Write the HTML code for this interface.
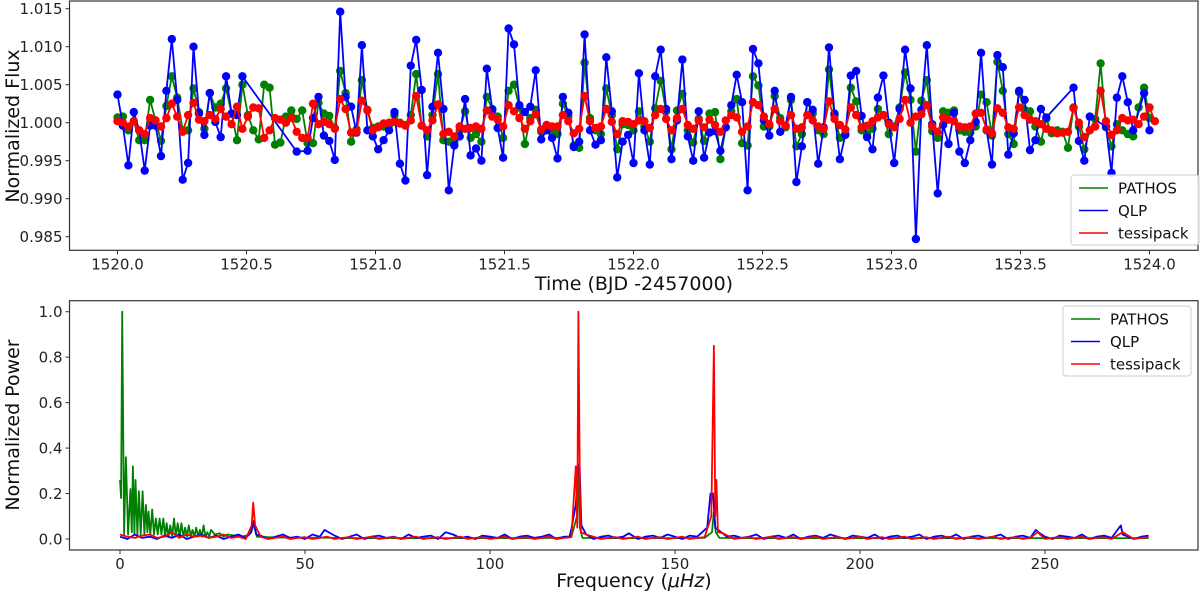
<!DOCTYPE html>
<html><head><meta charset="utf-8"><style>
html,body{margin:0;padding:0;background:#fff;}
svg{display:block;font-family:"DejaVu Sans","Liberation Sans",sans-serif;}
</style></head><body>
<svg id="chart" width="1200" height="593" viewBox="0 0 1200 593" xmlns="http://www.w3.org/2000/svg">
<g id="topG"></g>
<g id="botG"></g>
</svg>
<script>
// ---- Light curve data (flux deviation in units of 0.001) ----
const timeStart = 1520.0;
const timeEnd = 1524.0;
const pathosFlux = [0.7,0.8,-1.0,0.2,-2.3,-2.3,3.0,0.3,-2.4,2.2,6.1,3.3,-1.0,-1.0,4.5,1.4,-0.8,3.9,2.0,2.5,4.5,1.2,-2.3,5.0,1.0,-1.0,-2.2,5.0,4.6,-2.9,-2.6,0.8,1.6,0.5,1.6,-2.7,-2.7,2.6,1.2,0.9,-0.7,6.8,3.9,-2.5,-0.9,5.6,1.7,-0.7,-0.5,-0.5,-0.3,1.0,0.0,-0.3,1.0,6.4,-0.4,-1.8,1.0,6.4,-2.3,-2.5,-2.6,
-1.0,1.5,-2.0,-1.5,-2.5,3.4,1.8,0.8,-2.0,4.2,5.0,2.0,-2.8,0.6,1.7,-1.2,-0.8,-1.2,-1.5,2.5,0.8,-3.0,-3.3,7.9,0.6,-1.0,-1.5,4.5,1.0,-3.5,-0.2,-0.3,-1.0,1.5,-0.5,-2.5,1.9,5.5,1.5,-3.5,1.6,3.8,-1.0,-2.6,0.5,-2.4,1.2,1.4,-4.8,-0.6,1.5,3.1,-2.7,-3.0,6.1,4.9,-0.5,-0.5,3.5,0.6,-0.6,3.0,-3.1,-1.5,2.7,1.2,-1.0,-1.5,7.0,1.0,-2.0,-1.5,4.6,2.8,-1.0,-1.5,-0.8,1.8,1.0,-1.5,-0.5,2.0,6.6,3.0,-3.8,2.9,5.6,-1.1,-2.0,1.5,1.3,1.6,-1.0,-1.2,-1.3,-0.5,3.7,2.7,-1.7,8.0,4.2,-1.5,-2.8,4.0,1.7,1.5,-0.5,-2.5,0.5,-1.4,-1.0,-1.2,-3.3,2.0,-0.5,-3.5,-1.0,0.5,7.8,-0.6,-3.1,-0.2,-1.0,-1.5,-1.8,2.0,4.6,0.6];
const qlpFlux = [3.7,-0.4,-5.6,1.4,-1.0,-6.3,-0.4,-0.4,-4.4,4.2,11.0,3.0,-7.5,-5.3,10.0,1.2,-1.6,3.9,0.1,-1.9,6.1,1.2,1.0,6.1,null,null,null,null,null,null,null,null,null,-3.8,null,-3.7,0.6,3.4,-1.7,-2.4,-4.9,14.6,3.4,2.1,-1.3,10.2,-1.0,-1.8,-3.5,-2.3,-1.0,1.4,-5.4,-7.6,7.5,10.9,4.3,-6.9,2.1,9.2,1.8,-8.9,-3.0,
-1.8,3.1,-4.3,-3.4,-5.0,7.1,1.7,-0.7,-4.6,12.4,10.3,2.3,1.4,2.1,6.9,-2.2,-1.0,-2.0,-4.7,3.4,1.3,-3.2,-2.5,11.6,-1.0,-2.9,-2.3,8.6,1.5,-7.2,-2.5,-1.6,-5.3,6.5,-1.0,-5.5,6.1,9.6,1.8,-4.8,0.3,8.3,-1.8,-5.0,1.5,-4.6,-1.3,-1.1,-3.7,-0.6,2.3,6.3,2.7,-8.9,9.7,7.8,0.3,-1.7,4.2,-1.2,-0.4,3.4,-7.8,-3.1,2.7,1.7,-5.4,-0.6,9.9,1.2,-4.8,-1.6,6.2,6.8,0.9,-1.9,-3.5,3.3,6.2,0.0,-5.3,1.8,9.6,4.5,-15.3,1.7,10.2,-0.2,-9.3,-0.3,-2.8,1.3,-3.8,-5.3,-2.3,0.1,9.2,-1.0,-5.5,8.9,7.3,-4.2,-1.4,4.2,3.0,-3.6,-2.3,1.8,0.7,null,null,null,null,4.6,-2.4,-5.0,0.8,null,null,-0.5,-6.6,3.3,6.1,2.7,-1.0,null,3.9,-1.0];
const tessipackFlux = [0.2,0.0,-0.5,0.2,-1.0,-1.5,0.6,0.3,-0.5,0.6,2.5,0.8,-1.2,1.0,2.6,0.4,0.2,1.0,0.5,1.8,0.8,-0.2,2.1,-0.8,0.8,2.0,1.9,-2.0,-1.0,0.6,0.4,0.0,0.6,-1.2,-2.0,-2.0,2.5,-0.2,0.1,-0.2,-0.8,3.1,1.8,-1.3,-1.2,2.9,1.6,-1.0,-0.6,-0.1,0.0,0.1,-0.1,-0.4,0.3,3.5,-0.4,-1.0,0.3,2.4,-1.5,-1.2,-1.8,
-0.5,-0.8,-0.7,-0.5,-0.8,1.6,0.8,0.4,-0.5,2.3,1.5,0.6,-0.8,0.2,1.1,-0.9,-0.3,-0.5,-0.5,1.0,0.2,-1.4,-0.8,3.5,0.2,-0.7,-0.5,1.8,0.1,-1.5,0.2,0.1,-0.2,0.3,0.2,-0.7,1.0,1.8,0.5,-1.0,0.6,1.8,-0.3,-0.8,0.3,-0.6,0.4,-0.3,-1.2,0.3,1.0,0.7,-1.2,-0.5,2.7,2.3,0.8,-0.2,1.8,0.2,-0.4,1.0,-0.8,-0.6,1.0,0.3,-0.5,-0.8,2.8,0.5,-0.3,-0.9,2.0,1.0,-0.6,-0.4,0.2,0.7,1.0,-0.2,-0.6,0.5,3.0,0.0,0.8,1.1,2.3,-0.5,-1.2,0.7,0.4,0.2,-0.5,-0.6,-0.5,1.2,1.3,-0.9,-1.4,1.9,1.3,-0.6,-0.8,2.0,1.0,0.4,0.2,-0.2,-0.8,-1.0,-1.4,-1.3,-1.2,1.9,0.0,-1.9,-1.0,-0.5,4.2,0.2,-1.6,-1.0,0.6,0.3,0.4,-0.2,0.8,2.0,0.2];
const fluxTicks = [0.985,0.990,0.995,1.000,1.005,1.010,1.015];
const timeTicks = [1520.0,1520.5,1521.0,1521.5,1522.0,1522.5,1523.0,1523.5,1524.0];

// ---- Periodogram data ----
const pathosSpectrum = [[0,0.26],[0.3,0.18],[0.6,1.0],[1.1,0.02],[1.6,0.36],[2.2,0.02],[2.8,0.22],[3.2,0.03],[3.5,0.32],[3.9,0.02],[4.2,0.26],[4.7,0.02],[5.1,0.21],[5.6,0.02],[6.1,0.21],[6.6,0.02],[7.0,0.15],[7.4,0.03],[7.7,0.12],[8.2,0.02],[8.7,0.13],[9.2,0.02],[9.7,0.09],[10.2,0.02],[10.7,0.09],[11.2,0.02],[11.7,0.09],[12.2,0.01],[12.6,0.07],[13.1,0.01],[13.6,0.06],[14.1,0.01],[14.6,0.09],[15.1,0.01],[15.6,0.07],[16.1,0.01],[16.6,0.07],[17.1,0.01],[17.6,0.05],[18.1,0.01],[18.6,0.06],[19.1,0.01],[19.6,0.04],[20.1,0.01],[20.6,0.05],[21.1,0.01],[21.6,0.04],[22.1,0.01],[22.6,0.06],[23.1,0.01],[23.6,0.03],[24.1,0.01],[24.6,0.04],[25.6,0.02],[27,0.025],[28,0.01],[29,0.02],[31,0.015],[33,0.01],[35,0.02],[36,0.07],[37,0.01],[40,0.008],[45,0.006],[50,0.005],[55,0.006],[60,0.004],[70,0.004],[80,0.004],[90,0.004],[100,0.004],[110,0.004],[118,0.005],[122,0.01],[123.5,0.1],[123.9,0.3],[124.3,0.05],[125,0.005],[130,0.004],[140,0.004],[150,0.004],[158,0.005],[160,0.03],[160.5,0.12],[161,0.03],[162,0.005],[170,0.004],[180,0.004],[200,0.004],[220,0.004],[240,0.004],[260,0.004],[278,0.004]];
const gridStep = 2;
const qlpBase = [0.01,0.0,0.02,0.005,0.01,0.0,0.015,0.005,0.02,0.0,0.01,0.02,0.005,0.015,0.0,0.01,0.02,0.005,0.01,0.015,0.0,0.01,0.02,0.005,0.01,0.0,0.02,0.01,0.005,0.015,0.0,0.01,0.02,0.0,0.01,0.015,0.005,0.01,0.0,0.02,0.005,0.01,0.015,0.0,0.01,0.02,0.005,0.01,0.0,0.015,0.01,0.005,0.02,0.0,0.01,0.015,0.005,0.01,0.02,0.0,0.01,0.015,0.005,0.02,0.0,0.01,0.015,0.005,0.01,0.02,0.0,0.01,0.015,0.005,0.02,0.01,0.0,0.015,0.01,0.005,0.02,0.0,0.01,0.015,0.005,0.01,0.02,0.0,0.01,0.015,0.005,0.02,0.0,0.01,0.015,0.005,0.02,0.01,0.0,0.015,0.01,0.005,0.02,0.0,0.01,0.015,0.005,0.01,0.02,0.0,0.01,0.015,0.005,0.02,0.0,0.01,0.015,0.005,0.01,0.02,0.0,0.01,0.015,0.005,0.02,0.01,0.0,0.015,0.01,0.005,0.02,0.0,0.01,0.015,0.005,0.01,0.02,0.0,0.01,0.015];
const qlpPeaks = [[35.5,0.03],[36.2,0.08],[36.8,0.02],[55.3,0.04],[55.8,0.035],[88,0.03],[121.5,0.01],[122,0.045],[123.2,0.15],[123.7,0.28],[124.2,0.33],[124.7,0.06],[137.5,0.025],[158.7,0.05],[159.6,0.2],[160.3,0.2],[160.9,0.05],[247.5,0.04],[248.2,0.03],[270.5,0.06],[271,0.02]];
const tessipackBase = [0.02,0.01,0.005,0.015,0.02,0.005,0.01,0.03,0.005,0.02,0.01,0.015,0.005,0.01,0.02,0.005,0.01,0.0,0.005,0.01,0.0,0.005,0.01,0.0,0.005,0.008,0.0,0.005,0.01,0.0,0.005,0.008,0.0,0.005,0.01,0.0,0.005,0.008,0.0,0.005,0.01,0.0,0.005,0.008,0.0,0.005,0.01,0.0,0.005,0.008,0.0,0.005,0.01,0.0,0.005,0.008,0.0,0.005,0.01,0.0,0.005,0.008,0.0,0.015,0.01,0.0,0.005,0.008,0.0,0.005,0.01,0.0,0.005,0.008,0.0,0.005,0.01,0.0,0.005,0.008,0.0,0.005,0.01,0.0,0.005,0.008,0.0,0.005,0.01,0.0,0.005,0.008,0.0,0.005,0.01,0.0,0.005,0.008,0.0,0.005,0.01,0.0,0.005,0.008,0.0,0.005,0.01,0.0,0.005,0.008,0.0,0.005,0.01,0.0,0.005,0.008,0.0,0.005,0.01,0.0,0.005,0.008,0.0,0.005,0.01,0.0,0.005,0.008,0.0,0.005,0.01,0.0,0.005,0.008,0.0,0.005,0.01,0.0,0.005,0.008];
const tessipackPeaks = [[35.6,0.06],[36.0,0.16],[36.5,0.06],[123.2,0.32],[123.6,0.05],[123.9,1.0],[124.3,0.2],[124.6,0.03],[126,0.02],[159.8,0.1],[160.5,0.85],[160.9,0.1],[161.2,0.26],[161.6,0.03],[163,0.025],[248,0.03],[271,0.03]];
const powerTicks = [0.0,0.2,0.4,0.6,0.8,1.0];
const freqTicks = [0,50,100,150,200,250];
const seriesNames = ["PATHOS","QLP","tessipack"];
const seriesColors = ["#008000","#0000ff","#ff0000"];

const NS = "http://www.w3.org/2000/svg";
function mk(tag, attrs, parent){const e=document.createElementNS(NS,tag);for(const k in attrs)e.setAttribute(k,attrs[k]);parent.appendChild(e);return e;}
function txt(s, attrs, parent){const e=mk("text",attrs,parent);e.textContent=s;return e;}

// ---- Top panel ----
const topPanel = document.getElementById("topG");
const T = {l:69.5,r:1198,t:1,b:250.3};
const xT = t => 117.5 + (t-1520)*258;
const yT = f => 122.7 - (f-1.0)*7600;
const dv = d => 122.7 - d*7.6;
const nPts = pathosFlux.length;
const tAt = i => timeStart + i*(timeEnd-timeStart)/(nPts-1);

fluxTicks.forEach(v=>{
  const y=yT(v);
  const tk=mk("line",{x1:T.l-4,x2:T.l,y1:y,y2:y,stroke:"#333","stroke-width":1},topPanel);
  
  
  const lb=txt(v.toFixed(3),{x:T.l-7,y:y+5.5,"text-anchor":"end","font-size":"15",fill:"#222"},topPanel);
  
  
});
timeTicks.forEach(v=>{
  const x=xT(v);
  const tk=mk("line",{x1:x,x2:x,y1:T.b,y2:T.b+4,stroke:"#333","stroke-width":1},topPanel);
  
  
  const lb=txt(v.toFixed(1),{x:x,y:T.b+19,"text-anchor":"middle","font-size":"15",fill:"#222"},topPanel);
  
  
});
[pathosFlux,qlpFlux,tessipackFlux].forEach((arr,si)=>{
  const g=mk("g",{},topPanel);
  
  
  const pts=[];
  arr.forEach((v,i)=>{ if(v!==null) pts.push([xT(tAt(i)),dv(v)]); });
  const pl=mk("polyline",{points:pts.map(p=>p[0].toFixed(1)+","+p[1].toFixed(1)).join(" "),fill:"none",stroke:seriesColors[si],"stroke-width":1.8},g);
  
  
  pts.forEach(p=>{
    const c=mk("circle",{cx:p[0].toFixed(1),cy:p[1].toFixed(1),r:4.2,fill:seriesColors[si]},g);
    
    
  });
});
const fr1=mk("rect",{x:T.l,y:T.t,width:T.r-T.l,height:T.b-T.t,fill:"none",stroke:"#333","stroke-width":1.2},topPanel);


const yl1=txt("Normalized Flux",{x:0,y:0,transform:"translate(19,126) rotate(-90)","text-anchor":"middle","font-size":"19",fill:"#111"},topPanel);


const xl1=txt("Time (BJD -2457000)",{x:634,y:290,"text-anchor":"middle","font-size":"19",fill:"#111"},topPanel);



function legend(parent, x, y, h){
  const g=mk("g",{},parent);
  
  
  mk("rect",{x:x,y:y,width:128,height:h,rx:3,fill:"#fff","fill-opacity":0.85,stroke:"#ccc","stroke-width":1},g);
  seriesNames.forEach((n,i)=>{
    const e=mk("g",{},g);
    
    
    const yy=y+13+i*22.5;
    mk("line",{x1:x+8,x2:x+37,y1:yy,y2:yy,stroke:seriesColors[i],"stroke-width":1.6},e);
    txt(n,{x:x+47,y:yy+5.5,"font-size":"15",fill:"#111"},e);
  });
}
legend(topPanel,1071,175,70);

// ---- Bottom panel ----
const botPanel=document.getElementById("botG");
const B={l:69.5,r:1198,t:300.7,b:550};
const xF = f => 120 + f*3.7;
const yP = p => 539 - p*227.3;
powerTicks.forEach(v=>{
  const y=yP(v);
  const tk=mk("line",{x1:B.l-4,x2:B.l,y1:y,y2:y,stroke:"#333","stroke-width":1},botPanel);
  
  
  const lb=txt(v.toFixed(1),{x:B.l-7,y:y+5.5,"text-anchor":"end","font-size":"15",fill:"#222"},botPanel);
  
  
});
freqTicks.forEach(v=>{
  const x=xF(v);
  const tk=mk("line",{x1:x,x2:x,y1:B.b,y2:B.b+4,stroke:"#333","stroke-width":1},botPanel);
  
  
  const lb=txt(String(v),{x:x,y:B.b+19,"text-anchor":"middle","font-size":"15",fill:"#222"},botPanel);
  
  
});
function merged(base, peaks){
  const pts=base.map((p,i)=>[i*gridStep,p]);
  const out=pts.filter(p=>!peaks.some(q=>Math.abs(q[0]-p[0])<1.2)).concat(peaks);
  out.sort((a,b)=>a[0]-b[0]);
  return out;
}
const spectra=[pathosSpectrum, merged(qlpBase,qlpPeaks), merged(tessipackBase,tessipackPeaks)];
spectra.forEach((sp,si)=>{
  const pl=mk("polyline",{points:sp.map(p=>xF(p[0]).toFixed(1)+","+yP(p[1]).toFixed(1)).join(" "),fill:"none",stroke:seriesColors[si],"stroke-width":1.8,"stroke-linejoin":"round"},botPanel);
  
  
});
const fr2=mk("rect",{x:B.l,y:B.t,width:B.r-B.l,height:B.b-B.t,fill:"none",stroke:"#333","stroke-width":1.2},botPanel);


const yl2=txt("Normalized Power",{x:0,y:0,transform:"translate(19,425) rotate(-90)","text-anchor":"middle","font-size":"19",fill:"#111"},botPanel);


const xl2=mk("text",{x:634,y:587,"text-anchor":"middle","font-size":"19",fill:"#111"},botPanel);


xl2.appendChild(document.createTextNode("Frequency ("));
const itSpan=mk("tspan",{"font-style":"italic"},xl2); itSpan.textContent="\u03bcHz";
xl2.appendChild(document.createTextNode(")"));
legend(botPanel,1063,306,70);
</script>
</body></html>
